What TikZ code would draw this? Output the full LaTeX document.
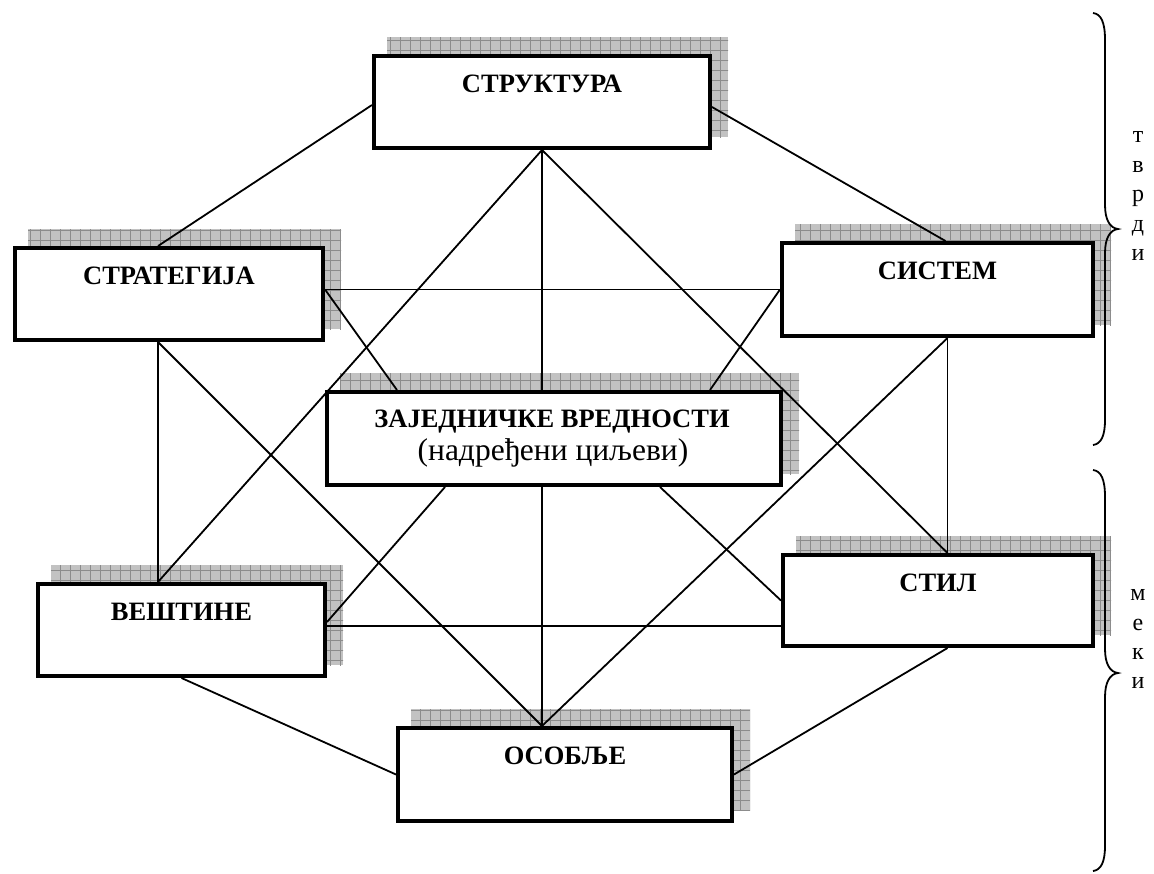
\documentclass[tikz,border=0pt]{standalone}
\usepackage{fontspec}
\setmainfont{Liberation Serif}
\usetikzlibrary{backgrounds,calc}

% grey checkered drop shadow behind a box node
\newcommand\boxshade[1]{%
  \begin{scope}
    \path[clip] ([shift={(15,-17)}]#1.north west) rectangle ([shift={(16,-13)}]#1.south east);
    \fill[shadefill] ([shift={(15,-17)}]#1.north west) rectangle ([shift={(16,-13)}]#1.south east);
    \draw[shadegrid] ([shift={(10,-30)}]#1.north west) grid ([shift={(30,10)}]#1.south east);
  \end{scope}}

\tikzset{
  panel/.style={draw, line width=4pt, fill=white, inner sep=0pt},
  title/.style={font=\bfseries\fontsize{26.5}{31}\selectfont, inner sep=0pt, anchor=base},
  subtitle/.style={font=\fontsize{31.5}{36}\selectfont, inner sep=0pt, anchor=base},
  side/.style={font=\fontsize{24}{28}\selectfont, inner sep=0pt, anchor=base},
  link/.style={line width=1.8pt},
  brace/.style={line width=1.8pt},
  shadefill/.style={fill=black!24},
  shadegrid/.style={draw=black!45, line width=0.7pt, step=10pt},
}

\begin{document}
\begin{tikzpicture}[x=1pt, y=-1pt]
  \useasboundingbox (0,0) rectangle (1154,873);

  % the seven boxes
  \node[panel, minimum width=336pt, minimum height=92pt] (str) at (542,102) {};
  \node[panel, minimum width=308pt, minimum height=92pt] (stg) at (169,294) {};
  \node[panel, minimum width=311pt, minimum height=93pt] (sis) at (937.5,289.5) {};
  \node[panel, minimum width=454pt, minimum height=93pt] (zaj) at (554,438.5) {};
  \node[panel, minimum width=287pt, minimum height=92pt] (ves) at (181.5,630) {};
  \node[panel, minimum width=310pt, minimum height=91pt] (stl) at (938,600.5) {};
  \node[panel, minimum width=334pt, minimum height=93pt] (oso) at (565,774.5) {};

  \begin{scope}[on background layer]
    \fill[white] (0,0) rectangle (1154,873);
    \boxshade{str}\boxshade{stg}\boxshade{sis}\boxshade{zaj}
    \boxshade{ves}\boxshade{stl}\boxshade{oso}
  \end{scope}

  % box titles
  \node[title] (str-t) at ([yshift=-38.5pt]str.north) {СТРУКТУРА};
  \node[title] (stg-t) at ([yshift=-38.5pt]stg.north) {СТРАТЕГИЈА};
  \node[title] (sis-t) at ([yshift=-38.5pt]sis.north) {СИСТЕМ};
  \node[title] (zaj-t) at ([shift={(-2,37)}]zaj.north) {ЗАЈЕДНИЧКЕ ВРЕДНОСТИ};
  \node[subtitle] (zaj-s) at ([shift={(-1,70)}]zaj.north) {(надређени циљеви)};
  \node[title] (ves-t) at ([yshift=-38.5pt]ves.north) {ВЕШТИНЕ};
  \node[title] (stl-t) at ([yshift=-38.5pt]stl.north) {СТИЛ};
  \node[title] (oso-t) at ([yshift=-38.5pt]oso.north) {ОСОБЉЕ};

  % connector end points on the boxes
  \coordinate (lc) at ([xshift=-11pt]stg.south);
  \coordinate (rc) at ([xshift=10pt]sis.south);
  \coordinate (ot) at ([xshift=-23pt]oso.north);
  \coordinate (mid) at (stg.east |- sis.west);

  % connectors
  \draw[link] ([yshift=-3pt]str.west) -- ([xshift=-11pt]stg.north);
  \draw[link] ([yshift=-5pt]str.east) -- ([xshift=8pt]sis.north);
  \draw[link] (str.south) -- (lc |- ves.north);
  \draw[link] (str.south) -- (str.south |- zaj.north);
  \draw[link] (str.south) -- (rc |- stl.north);
  \draw[link] (mid) -- (sis.west);
  \draw[link] (mid) -- ([xshift=72pt]zaj.north west);
  \draw[link] (sis.west) -- ([xshift=-73pt]zaj.north east);
  \draw[link] (lc) -- (lc |- ves.north);
  \draw[link] (lc) -- (ot);
  \draw[link] (rc) -- (rc |- stl.north);
  \draw[link] (rc) -- (ot);
  \draw[link] (ot |- zaj.south) -- (ot);
  \draw[link] ([xshift=120pt]zaj.south west) -- ([yshift=8pt]ves.east);
  \draw[link] ([xshift=-123pt]zaj.south east) -- (stl.west);
  \draw[link] ([yshift=4pt]ves.east) -- ([yshift=4pt]ves.east -| stl.west);
  \draw[link] (ves.south) -- (oso.west);
  \draw[link] (oso.east) -- (rc |- stl.south);

  % braces on the right
  \draw[brace] (1093,13) .. controls (1101,14) and (1105,22) .. (1105,40)
    -- (1105,205) .. controls (1105,220) and (1110,228) .. (1118,229)
    .. controls (1110,230) and (1105,238) .. (1105,253)
    -- (1105,420) .. controls (1105,436) and (1101,444) .. (1093,445);
  \draw[brace] (1093,470) .. controls (1101,471) and (1105,479) .. (1105,497)
    -- (1105,649) .. controls (1105,664) and (1110,672) .. (1118,673)
    .. controls (1110,674) and (1105,682) .. (1105,697)
    -- (1105,846) .. controls (1105,862) and (1101,870) .. (1093,871);

  % vertical words
  \node[side] (h1) at (1138,142) {т};
  \node[side] (h2) at (1138,172) {в};
  \node[side] (h3) at (1138,201) {р};
  \node[side] (h4) at (1138,231) {д};
  \node[side] (h5) at (1138,260) {и};
  \node[side] (s1) at (1138,600) {м};
  \node[side] (s2) at (1138,630) {е};
  \node[side] (s3) at (1138,659) {к};
  \node[side] (s4) at (1138,688) {и};
\end{tikzpicture}
\end{document}
